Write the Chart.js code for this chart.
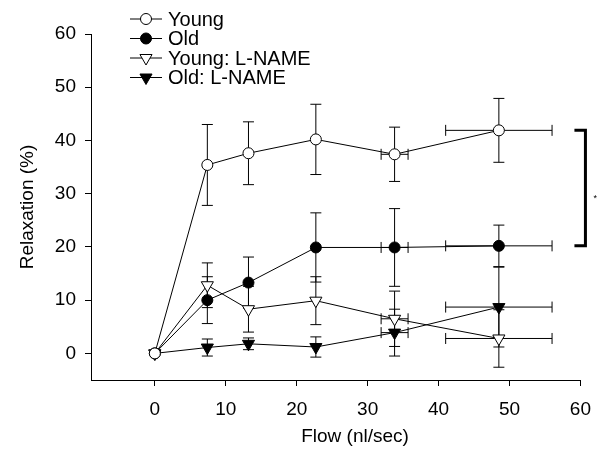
<!DOCTYPE html>
<html lang="en">
<head>
    <meta charset="UTF-8">
    <title>Relaxation vs Flow</title>
    <script src="https://cdn.jsdelivr.net/npm/chart.js"></script>
    <style>
        body { margin: 0; background: #ffffff; }
        canvas { display: block; }
    </style>
</head>
<body>
    <canvas id="grafica" width="603" height="462"></canvas>

    <script>
        // Flow steps (nl/sec) and their horizontal SEM
        const flow = [0, 7.4, 13.2, 22.7, 33.8, 48.5];
        const flowErr = [0, 0, 0, 0, 1.9, 7.5];

        // Relaxation (%) means and SEM for each group
        const youngY = [0, 35.4, 37.6, 40.2, 37.4, 41.9];
        const youngErr = [0, 7.6, 5.9, 6.6, 5.1, 6.0];
        const oldY = [0, 10.0, 13.3, 19.9, 19.9, 20.2];
        const oldErr = [0, 4.4, 4.8, 6.5, 7.3, 3.9];
        const youngLnameY = [0, 12.8, 8.3, 9.9, 6.5, 2.8];
        const youngLnameErr = [0, 4.2, 4.3, 4.5, 5.2, 5.4];
        const oldLnameY = [0, 1.1, 1.8, 1.2, 3.9, 8.7];
        const oldLnameErr = [0, 1.6, 1.1, 1.9, 4.4, 7.5];

        const xTicks = [0, 10, 20, 30, 40, 50, 60];
        const yTicks = [0, 10, 20, 30, 40, 50, 60];

        const familia = 'Liberation Sans, Arial, sans-serif';
        const fuente = { family: familia, size: 19 };

        function serie(label, ys, errs, style, fill, rot, radius) {
            return {
                label: label,
                data: flow.map((x, i) => ({ x: x, y: ys[i] })),
                yErr: errs,
                xErr: flowErr,
                showLine: true,
                borderColor: '#000',
                borderWidth: 1,
                pointStyle: style,
                pointRotation: rot,
                pointRadius: radius,
                pointBorderWidth: 1,
                pointBorderColor: '#000',
                pointBackgroundColor: fill
            };
        }

        const datasets = [
            serie('Young', youngY, youngErr, 'circle', '#fff', 0, 5.5),
            serie('Old', oldY, oldErr, 'circle', '#000', 0, 5.5),
            serie('Young: L-NAME', youngLnameY, youngLnameErr, 'triangle', '#fff', 180, 7),
            serie('Old: L-NAME', oldLnameY, oldLnameErr, 'triangle', '#000', 180, 7)
        ];

        // Error bars in both directions, drawn under the lines and markers
        const barrasError = {
            id: 'barrasError',
            beforeDatasetsDraw(chart) {
                const ctx = chart.ctx;
                const xs = chart.scales.x, ys = chart.scales.y;
                const cap = 5.5;
                ctx.save();
                ctx.strokeStyle = '#000';
                ctx.lineWidth = 1;
                chart.data.datasets.forEach(ds => {
                    ds.data.forEach((p, i) => {
                        const px = xs.getPixelForValue(p.x);
                        const py = ys.getPixelForValue(p.y);
                        const ey = ds.yErr[i], ex = ds.xErr[i];
                        ctx.beginPath();
                        if (ey > 0) {
                            const t = ys.getPixelForValue(p.y + ey);
                            const b = ys.getPixelForValue(p.y - ey);
                            ctx.moveTo(px, t); ctx.lineTo(px, b);
                            ctx.moveTo(px - cap, t); ctx.lineTo(px + cap, t);
                            ctx.moveTo(px - cap, b); ctx.lineTo(px + cap, b);
                        }
                        if (ex > 0) {
                            const l = xs.getPixelForValue(p.x - ex);
                            const r = xs.getPixelForValue(p.x + ex);
                            ctx.moveTo(l, py); ctx.lineTo(r, py);
                            ctx.moveTo(l, py - cap); ctx.lineTo(l, py + cap);
                            ctx.moveTo(r, py - cap); ctx.lineTo(r, py + cap);
                        }
                        ctx.stroke();
                    });
                });
                ctx.restore();
            }
        };

        function dibujarMarca(ctx, ds, x, y) {
            ctx.beginPath();
            if (ds.pointStyle === 'circle') {
                ctx.arc(x, y, ds.pointRadius, 0, Math.PI * 2);
            } else {
                const r = ds.pointRadius;
                const rot = ds.pointRotation * Math.PI / 180;
                for (let k = 0; k < 3; k++) {
                    const a = rot + k * 2 * Math.PI / 3;
                    const vx = x + Math.sin(a) * r, vy = y - Math.cos(a) * r;
                    if (k === 0) ctx.moveTo(vx, vy); else ctx.lineTo(vx, vy);
                }
                ctx.closePath();
            }
            ctx.fillStyle = ds.pointBackgroundColor;
            ctx.fill();
            ctx.stroke();
        }

        // Legend with line + marker, x title, bracket and asterisk
        const extras = {
            id: 'extras',
            afterDraw(chart) {
                const ctx = chart.ctx;
                const xs = chart.scales.x, ys = chart.scales.y;
                ctx.save();
                ctx.strokeStyle = '#000';
                ctx.lineWidth = 1;
                ctx.font = '20px ' + familia;
                ctx.textBaseline = 'middle';
                chart.data.datasets.forEach((ds, i) => {
                    const y = 19 + i * 19.5;
                    ctx.beginPath();
                    ctx.moveTo(130, y); ctx.lineTo(162, y);
                    ctx.stroke();
                    dibujarMarca(ctx, ds, 146, y);
                    ctx.fillStyle = '#000';
                    ctx.fillText(ds.label, 168, y + 1);
                });

                ctx.font = fuente.size + 'px ' + familia;
                ctx.textAlign = 'center';
                ctx.fillText('Flow (nl/sec)', 355, 437);
                ctx.textAlign = 'left';

                const n = flow.length - 1;
                const top = ys.getPixelForValue(youngY[n]);
                const bot = ys.getPixelForValue(oldY[n]);
                const bx = xs.getPixelForValue(60) + 5;
                ctx.lineWidth = 3;
                ctx.beginPath();
                ctx.moveTo(bx - 11, top); ctx.lineTo(bx, top);
                ctx.lineTo(bx, bot); ctx.lineTo(bx - 11, bot);
                ctx.stroke();
                ctx.font = '9px ' + familia;
                ctx.fillText('*', bx + 8, (top + bot) / 2 + 10);
                ctx.restore();
            }
        };

        new Chart(document.getElementById('grafica').getContext('2d'), {
            type: 'scatter',
            data: { datasets: datasets },
            options: {
                responsive: false,
                animation: false,
                layout: { padding: { top: 34, right: 19, left: 0, bottom: 0 } },
                plugins: { legend: { display: false }, tooltip: { enabled: false } },
                scales: {
                    x: {
                        type: 'linear',
                        min: -9,
                        max: 60,
                        afterBuildTicks: s => { s.ticks = xTicks.map(v => ({ value: v })); },
                        afterFit: s => { s.height = 82; },
                        grid: { drawOnChartArea: false, tickLength: 6, color: '#000' },
                        border: { color: '#000' },
                        ticks: { color: '#000', font: fuente, padding: 12, maxRotation: 0 },
                        title: { display: false }
                    },
                    y: {
                        type: 'linear',
                        min: -5,
                        max: 60,
                        afterBuildTicks: s => { s.ticks = yTicks.map(v => ({ value: v })); },
                        afterFit: s => { s.width = 91; },
                        grid: { drawOnChartArea: false, tickLength: 6, color: '#000' },
                        border: { color: '#000' },
                        ticks: { color: '#000', font: fuente, padding: 9 },
                        title: { display: true, text: 'Relaxation (%)', color: '#000', font: fuente, padding: { top: 16, bottom: 0 } }
                    }
                }
            },
            plugins: [barrasError, extras]
        });
    </script>
</body>
</html>
